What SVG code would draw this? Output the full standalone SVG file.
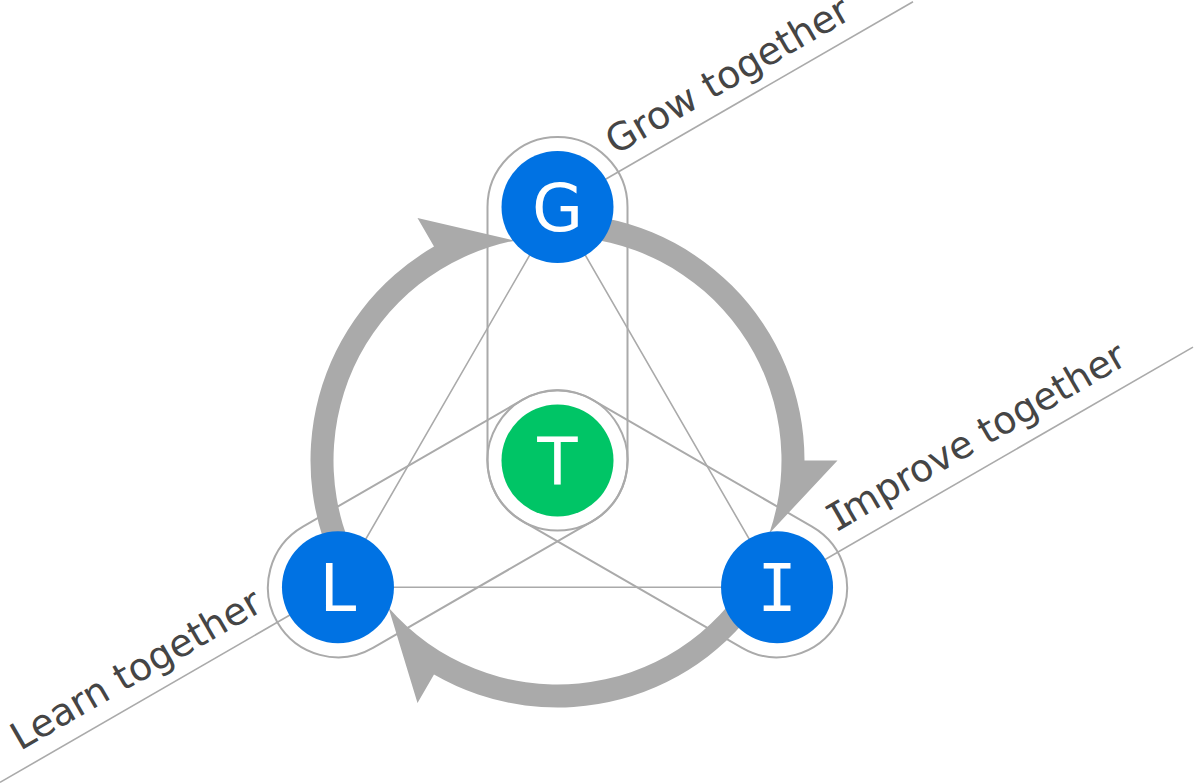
<svg xmlns="http://www.w3.org/2000/svg" width="1195" height="784" viewBox="0 0 1195 784">
<style>
.ln{fill:none;stroke:#aaaaaa;stroke-width:1.6}
.cap{fill:none;stroke:#aaaaaa;stroke-width:2}
.band{fill:#aaaaaa}
.nb{fill:#0072e3}
.ng{fill:#00c566}
.lt{font-family:"DejaVu Sans","Liberation Sans",sans-serif;font-size:66px;fill:#ffffff;text-anchor:middle}
.mono{font-family:"DejaVu Sans Mono","Liberation Mono",monospace}
.lab{font-family:"DejaVu Sans","Liberation Sans",sans-serif;font-size:38px;fill:#454545}
</style>
<defs>
<rect id="capsule" class="cap" x="487.5" y="137" width="140" height="393.5" rx="70" ry="70"/>
<path id="arrow" class="band" d="M0,-247 A247,247 0 0 1 247,0 L280,0 L211.8,72.9 A224,224 0 0 0 0,-224 Z"/>
</defs>
<g id="connectors">
<polygon class="ln" points="557.5,207 337.96,587.25 777.04,587.25"/>
<line class="ln" x1="557.5" y1="207" x2="913" y2="1.75"/>
<line class="ln" x1="777.04" y1="587.25" x2="1193" y2="347.1"/>
<line class="ln" x1="337.96" y1="587.25" x2="0" y2="782.4"/>
<use href="#capsule"/>
<use href="#capsule" transform="rotate(120 557.5 460.5)"/>
<use href="#capsule" transform="rotate(240 557.5 460.5)"/>
<g transform="translate(557.5 460.5)">
<use href="#arrow"/>
<use href="#arrow" transform="rotate(120)"/>
<use href="#arrow" transform="rotate(240)"/>
</g>
</g>
<g id="node-T">
<circle class="ng" cx="557.5" cy="460.5" r="56"/>
<text class="lt" x="557.5" y="484.5">T</text>
</g>
<g id="node-G">
<circle class="nb" cx="557.5" cy="207" r="56"/>
<text class="lt" x="557.5" y="231">G</text>
<text class="lab" transform="translate(557.5 207) rotate(-30)" x="76" y="-16">Grow together</text>
</g>
<g id="node-L">
<circle class="nb" cx="337.96" cy="587.25" r="56"/>
<text class="lt" x="337.96" y="611.25">L</text>
<text class="lab" transform="translate(337.96 587.25) rotate(-30)" x="-75" y="-17" text-anchor="end">Learn together</text>
</g>
<g id="node-I">
<circle class="nb" cx="777.04" cy="587.25" r="56"/>
<text class="lt mono" x="777.04" y="611.25">I</text>
<text class="lab" transform="translate(777.04 587.25) rotate(-30)" x="78" y="-18"><tspan class="mono">I</tspan><tspan dx="-5">mprove together</tspan></text>
</g>
</svg>
